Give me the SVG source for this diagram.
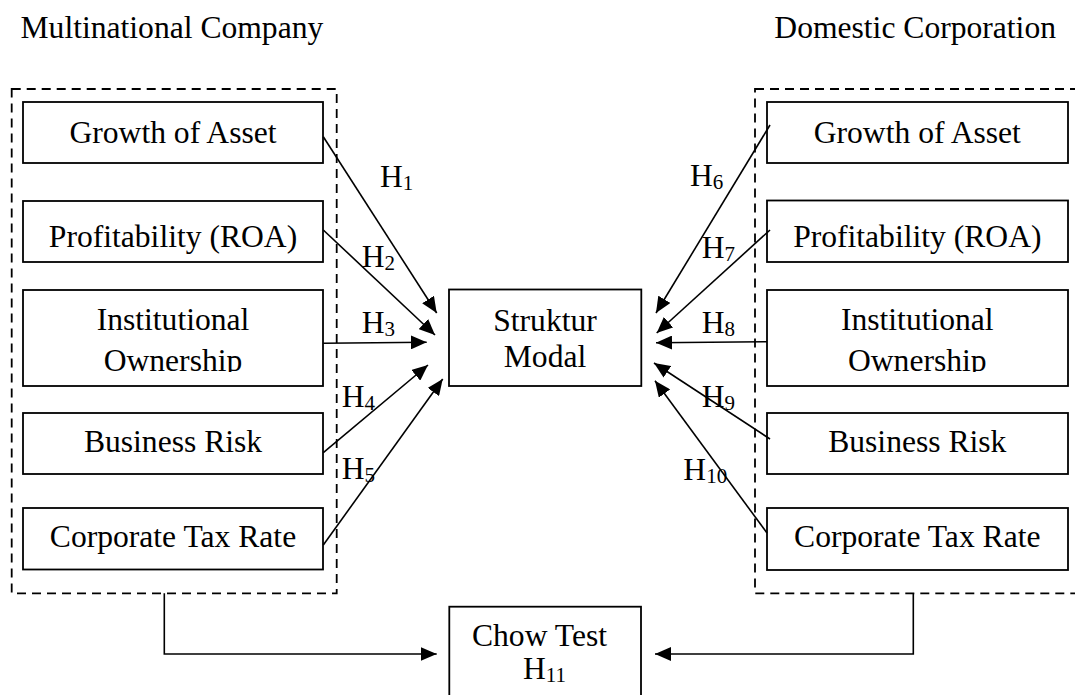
<svg xmlns="http://www.w3.org/2000/svg" width="1075" height="695" viewBox="0 0 1075 695">
  <style>
    text { font-family: "Liberation Serif", "Times New Roman", serif; font-size: 31.6px; fill: #000; }
    .c { text-anchor: middle; }
    .sub { font-size: 21px; }
    .box { fill: #fff; stroke: #000; stroke-width: 1.8; }
    .group { fill: none; stroke: #000; stroke-width: 1.8; stroke-dasharray: 9 6; }
    .link { fill: none; stroke: #000; stroke-width: 1.6; marker-end: url(#arrow); }
  </style>
  <defs>
    <marker id="arrow" markerUnits="userSpaceOnUse" viewBox="0 0 16 14" refX="16" refY="7" markerWidth="16" markerHeight="14" orient="auto">
      <path d="M0 0 L16 7 L0 14 Z" fill="#000"/>
    </marker>
    <clipPath id="ownClip" clipPathUnits="userSpaceOnUse">
      <rect x="0" y="0" width="1075" height="372"/>
    </clipPath>
  </defs>

  <rect width="1075" height="695" fill="#fff"/>

  <!-- group headings -->
  <text x="20.5" y="37.5">Multinational Company</text>
  <text x="1056" y="37.5" text-anchor="end">Domestic Corporation</text>

  <!-- dashed group frames -->
  <rect id="mnc-group" class="group" x="11.7" y="89" width="325" height="504.3"/>
  <rect id="dc-group" class="group" x="755" y="89" width="330" height="504.3"/>

  <!-- multinational variables -->
  <g id="mnc-growth">
    <rect class="box" x="23" y="102" width="300" height="61"/>
    <text class="c" x="173" y="142.7">Growth of Asset</text>
  </g>
  <g id="mnc-roa">
    <rect class="box" x="23" y="201" width="300" height="61"/>
    <text class="c" x="173" y="246.7">Profitability (ROA)</text>
  </g>
  <g id="mnc-inst">
    <rect class="box" x="23" y="290" width="300" height="96"/>
    <text class="c" x="173" y="330">Institutional</text>
    <text class="c" x="173" y="370.7" clip-path="url(#ownClip)">Ownership</text>
  </g>
  <g id="mnc-risk">
    <rect class="box" x="23" y="413" width="300" height="61"/>
    <text class="c" x="173" y="451.7">Business Risk</text>
  </g>
  <g id="mnc-tax">
    <rect class="box" x="23" y="508" width="300" height="61.5"/>
    <text class="c" x="173" y="547.3">Corporate Tax Rate</text>
  </g>

  <!-- domestic variables -->
  <g id="dc-growth">
    <rect class="box" x="767" y="102" width="301" height="61"/>
    <text class="c" x="917.3" y="142.7">Growth of Asset</text>
  </g>
  <g id="dc-roa">
    <rect class="box" x="767" y="200.5" width="301" height="61.5"/>
    <text class="c" x="917.3" y="246.7">Profitability (ROA)</text>
  </g>
  <g id="dc-inst">
    <rect class="box" x="767" y="290" width="301" height="96"/>
    <text class="c" x="917.3" y="330">Institutional</text>
    <text class="c" x="917.3" y="370.7" clip-path="url(#ownClip)">Ownership</text>
  </g>
  <g id="dc-risk">
    <rect class="box" x="767" y="413" width="301" height="61"/>
    <text class="c" x="917.3" y="451.7">Business Risk</text>
  </g>
  <g id="dc-tax">
    <rect class="box" x="767" y="508" width="301" height="62"/>
    <text class="c" x="917.3" y="547.3">Corporate Tax Rate</text>
  </g>

  <!-- dependent variable -->
  <g id="struktur-modal">
    <rect class="box" x="449" y="289.5" width="192.3" height="96.5"/>
    <text class="c" x="545" y="330.7">Struktur</text>
    <text class="c" x="545" y="366.7">Modal</text>
  </g>

  <!-- comparison test -->
  <g id="chow-test">
    <rect class="box" x="449.3" y="606.7" width="191.7" height="100"/>
    <text class="c" x="539.5" y="645.5">Chow Test</text>
    <text x="523" y="678.5">H<tspan class="sub" dy="3">11</tspan></text>
  </g>

  <!-- connectors -->
  <g id="connectors">
    <line class="link" x1="323.3" y1="136.7" x2="436.7" y2="313"/>
    <line class="link" x1="323.3" y1="230" x2="435" y2="335"/>
    <line class="link" x1="323.3" y1="343.3" x2="426.7" y2="342.3"/>
    <line class="link" x1="323.3" y1="452.7" x2="428" y2="365"/>
    <line class="link" x1="323.3" y1="545" x2="442.7" y2="379"/>

    <line class="link" x1="770" y1="125" x2="656" y2="313"/>
    <line class="link" x1="770" y1="230" x2="656.7" y2="333"/>
    <line class="link" x1="767" y1="341.7" x2="656" y2="342.7"/>
    <line class="link" x1="770" y1="439" x2="654" y2="363"/>
    <line class="link" x1="767" y1="533" x2="655" y2="380.7"/>

    <path class="link" d="M164.3 593.3 V654 H436.7"/>
    <path class="link" d="M913.3 593.3 V654 H655"/>
  </g>

  <!-- hypothesis labels -->
  <g id="hypotheses">
    <text x="380" y="187.3">H<tspan class="sub" dy="3">1</tspan></text>
    <text x="361.7" y="266.7">H<tspan class="sub" dy="3">2</tspan></text>
    <text x="361.7" y="333.3">H<tspan class="sub" dy="3">3</tspan></text>
    <text x="341.7" y="406.7">H<tspan class="sub" dy="3">4</tspan></text>
    <text x="341.7" y="479.3">H<tspan class="sub" dy="3">5</tspan></text>
    <text x="690" y="186">H<tspan class="sub" dy="3">6</tspan></text>
    <text x="701.7" y="258.3">H<tspan class="sub" dy="3">7</tspan></text>
    <text x="701.7" y="333.3">H<tspan class="sub" dy="3">8</tspan></text>
    <text x="701.7" y="406.7">H<tspan class="sub" dy="3">9</tspan></text>
    <text x="683.3" y="480">H<tspan class="sub" dy="3">10</tspan></text>
  </g>
</svg>
